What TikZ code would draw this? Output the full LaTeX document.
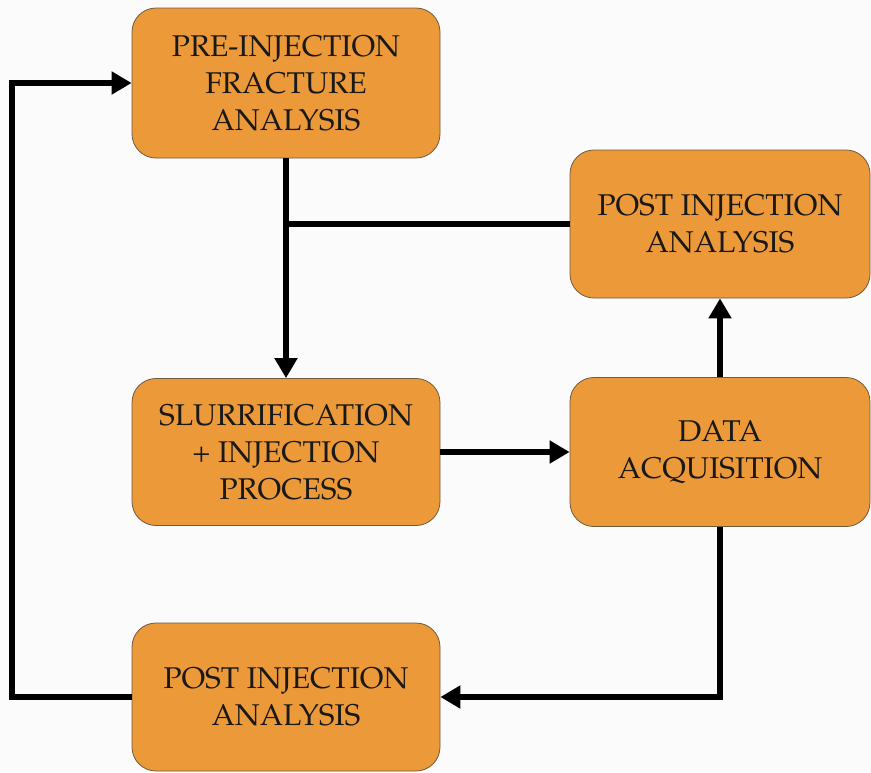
\documentclass[tikz,border=0pt]{standalone}
\usepackage[T1]{fontenc}
\usepackage{mathpazo}
\usetikzlibrary{arrows.meta}
\definecolor{boxfill}{RGB}{236,153,58}
\definecolor{boxedge}{RGB}{110,90,60}
\definecolor{paper}{RGB}{251,251,251}
\begin{document}
\begin{tikzpicture}[x=1pt,y=-1pt,
  stage/.style={draw=boxedge,line width=0.8pt,fill=boxfill,rounded corners=24pt,
    align=center,inner sep=0pt,text=black!90,
    font=\fontsize{30}{37}\selectfont},
  flow/.style={line width=6pt},
  tip/.style={flow,-{Triangle[length=20pt,width=22pt]}}]
  \fill[paper] (0,0) rectangle (871,772);
  \useasboundingbox (0,0) rectangle (871,772);

  \node[stage,minimum width=308pt,minimum height=150pt] (pre)  at (286,83)    {PRE-INJECTION\\FRACTURE\\ANALYSIS};
  \node[stage,minimum width=300pt,minimum height=148pt] (postA) at (720,224)  {POST INJECTION\\ANALYSIS};
  \node[stage,minimum width=308pt,minimum height=147pt] (slurry) at (286,452) {SLURRIFICATION\\+ INJECTION\\PROCESS};
  \node[stage,minimum width=300pt,minimum height=149pt] (data) at (720,452) {DATA\\ACQUISITION};
  \node[stage,minimum width=308pt,minimum height=148pt] (postB) at (286,697)  {POST INJECTION\\ANALYSIS};

  \coordinate (loop) at (12,0);

  \draw[tip] (pre.south) -- (slurry.north);
  \draw[flow] (postA.west) -- (pre.south |- postA.west);
  \draw[tip] (slurry.east) -- (data.west);
  \draw[tip] (data.north) -- (postA.south);
  \draw[tip] (data.south) |- (postB.east);
  \draw[tip] (postB.west) -- (loop |- postB.west) |- (pre.west);
\end{tikzpicture}
\end{document}
